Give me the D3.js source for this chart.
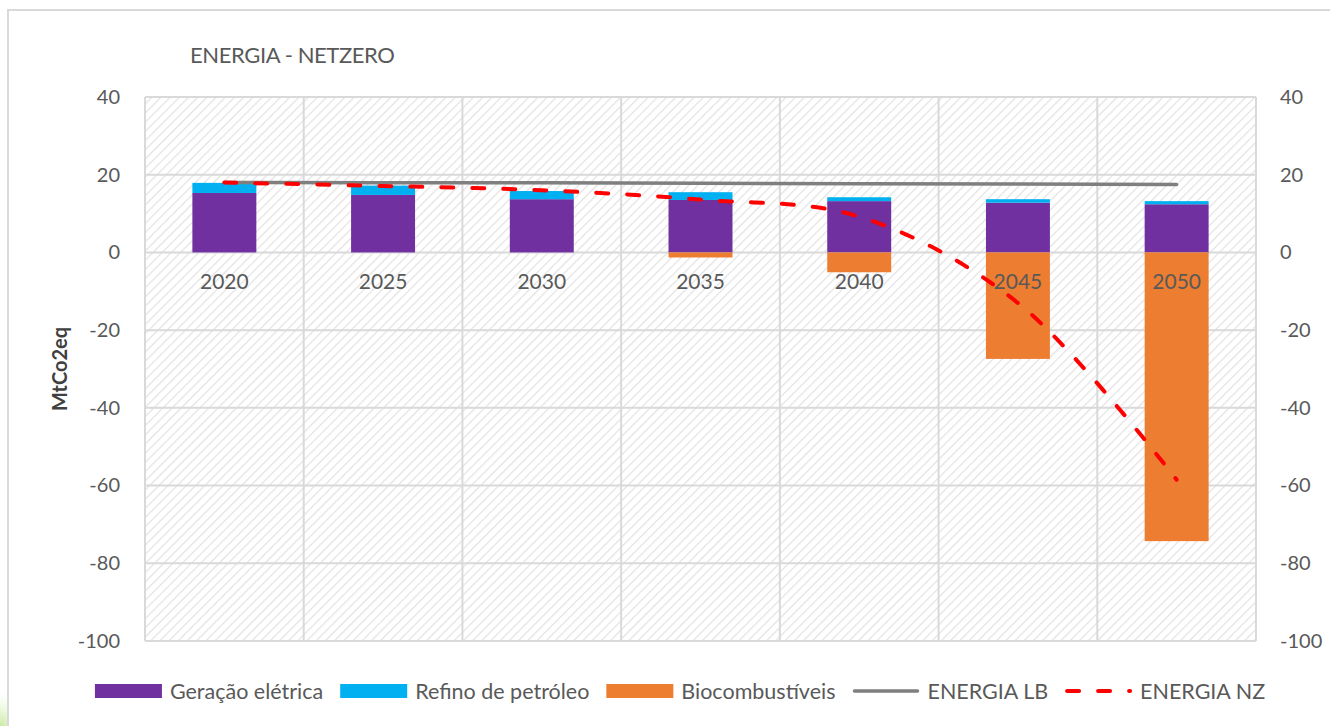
<!DOCTYPE html>
<html>
<head>
<meta charset="utf-8">
<script src="https://cdn.jsdelivr.net/npm/d3@7"></script>
<style>
  body { margin: 0; background: #fff; }
  text { font-family: Lato, "Open Sans", sans-serif; }
</style>
</head>
<body>
<div id="chart"></div>
<script>
// data
const years = ["2020", "2025", "2030", "2035", "2040", "2045", "2050"];
const geracao = [15.3, 14.8, 13.7, 13.5, 13.2, 12.8, 12.4];
const refino = [2.6, 2.4, 2.1, 2.0, 1.0, 0.9, 0.8];
const biocomb = [0, 0, 0, -1.3, -5.1, -27.4, -74.3];
const energiaLB = [18.0, 17.9, 17.9, 17.8, 17.7, 17.6, 17.5];
const energiaNZ = [18.0, 17.1, 16.0, 13.6, 9.2, -13.0, -58.5];
const yTicks = [40, 20, 0, -20, -40, -60, -80, -100];

let W = 1330, H = 726;
let margin = { left: 145, right: 74, top: 97, bottom: 85 };

let svg = d3.select("#chart")
  .append("svg")
    .attr("width", W)
    .attr("height", H);

let defs = svg.append("defs");
let pat = defs.append("pattern")
  .attr("id", "hatch")
  .attr("patternUnits", "userSpaceOnUse")
  .attr("width", 6.5)
  .attr("height", 6.5)
  .attr("patternTransform", "rotate(45)");
pat.append("rect").attr("width", 6.5).attr("height", 6.5).attr("fill", "#fff");
pat.append("line")
  .attr("x1", 0).attr("y1", 0).attr("x2", 0).attr("y2", 6.5)
  .attr("stroke", "#e2e2e2")
  .attr("stroke-width", 2.4);

let grad = defs.append("radialGradient").attr("id", "green");
grad.append("stop").attr("offset", "0%").attr("stop-color", "#c9eaa0");
grad.append("stop").attr("offset", "100%").attr("stop-color", "#ffffff").attr("stop-opacity", 0);

// slide background bits + chart frame
svg.append("circle").attr("cx", 0).attr("cy", 726).attr("r", 40).attr("fill", "url(#green)");
svg.append("rect")
  .attr("x", 8).attr("y", 10)
  .attr("width", W).attr("height", H)
  .attr("fill", "#fff")
  .attr("stroke", "#d9d9d9")
  .attr("stroke-width", 2);

let x = d3.scaleBand()
  .domain(years)
  .range([margin.left, W - margin.right]);

let y = d3.scaleLinear()
  .domain([-100, 40])
  .range([H - margin.bottom, margin.top]);

// plot background
svg.append("rect")
  .attr("x", margin.left).attr("y", margin.top)
  .attr("width", W - margin.right - margin.left)
  .attr("height", H - margin.bottom - margin.top)
  .attr("fill", "url(#hatch)");

// gridlines
let grid = svg.append("g").attr("stroke", "#d9d9d9").attr("stroke-width", 2);
grid.selectAll("line.h")
  .data(yTicks)
  .enter()
  .append("line")
    .attr("x1", margin.left).attr("x2", W - margin.right)
    .attr("y1", d => y(d)).attr("y2", d => y(d));
grid.selectAll("line.v")
  .data(years.concat(["end"]))
  .enter()
  .append("line")
    .attr("x1", (d, i) => margin.left + i * x.bandwidth())
    .attr("x2", (d, i) => margin.left + i * x.bandwidth())
    .attr("y1", margin.top).attr("y2", H - margin.bottom);

// stacked bars
let rows = years.map((yr, i) => ({ year: yr, geracao: geracao[i], refino: refino[i], biocomb: biocomb[i] }));
let keys = ["geracao", "refino", "biocomb"];
let colors = { geracao: "#7030a0", refino: "#00b0f0", biocomb: "#ed7d31" };
let series = d3.stack().keys(keys).offset(d3.stackOffsetDiverging)(rows);

let barW = x.bandwidth() * 0.403;
svg.append("g")
  .selectAll("g")
  .data(series)
  .enter()
  .append("g")
    .attr("fill", d => colors[d.key])
  .selectAll("rect")
  .data(d => d)
  .enter()
  .append("rect")
    .attr("x", d => x(d.data.year) + x.bandwidth() / 2 - barW / 2)
    .attr("width", barW)
    .attr("y", d => y(Math.max(d[0], d[1])))
    .attr("height", d => Math.abs(y(d[0]) - y(d[1])));

// category labels along the zero line
svg.append("g")
  .selectAll("text")
  .data(years)
  .enter()
  .append("text")
    .attr("x", d => x(d) + x.bandwidth() / 2)
    .attr("y", y(0) + 37)
    .attr("text-anchor", "middle")
    .attr("font-size", 21)
    .attr("fill", "#595959")
    .text(d => d);

// lines
let cx = (d, i) => x(years[i]) + x.bandwidth() / 2;
svg.append("path")
  .datum(energiaLB)
  .attr("fill", "none")
  .attr("stroke", "#7f7f7f")
  .attr("stroke-width", 3.5)
  .attr("stroke-linecap", "round")
  .attr("d", d3.line().x(cx).y(d => y(d)));

svg.append("path")
  .datum(energiaNZ)
  .attr("fill", "none")
  .attr("stroke", "#ff0000")
  .attr("stroke-width", 4)
  .attr("stroke-linecap", "round")
  .attr("stroke-dasharray", "12,19")
  .attr("d", d3.line().x(cx).y(d => y(d)).curve(d3.curveCatmullRom.alpha(0.5)));

// y axes (left and right)
let leftAxis = d3.axisLeft(y).tickValues(yTicks).tickFormat(d => String(d)).tickSize(0).tickPadding(25);
let rightAxis = d3.axisRight(y).tickValues(yTicks).tickFormat(d => String(d)).tickSize(0).tickPadding(24);
[["left", leftAxis, margin.left], ["right", rightAxis, W - margin.right]].forEach(a => {
  let g = svg.append("g").attr("transform", "translate(" + a[2] + ",0)").call(a[1]);
  g.select(".domain").remove();
  g.selectAll("text")
    .attr("font-family", "Lato, sans-serif")
    .attr("font-size", 20)
    .attr("fill", "#595959");
});

// titles
svg.append("text")
  .attr("x", 190).attr("y", 63)
  .attr("font-size", 22)
  .attr("fill", "#595959")
  .attr("letter-spacing", -0.4)
  .text("ENERGIA - NETZERO");

svg.append("text")
  .attr("transform", "translate(67," + (y(-30)) + ") rotate(-90)")
  .attr("text-anchor", "middle")
  .attr("font-size", 20)
  .attr("font-weight", "bold")
  .attr("fill", "#404040")
  .text("MtCo2eq");

// legend
const legendNames = ["Geração elétrica", "Refino de petróleo", "Biocombustíveis", "ENERGIA LB", "ENERGIA NZ"];
const legendKinds = ["rect", "rect", "rect", "solid", "dash"];
const legendColors = ["#7030a0", "#00b0f0", "#ed7d31", "#7f7f7f", "#ff0000"];

let legend = svg.append("g");
let lx = 0;
legendNames.forEach((name, i) => {
  let g = legend.append("g");
  if (legendKinds[i] === "rect") {
    g.append("rect").attr("x", 0).attr("y", -7).attr("width", 67).attr("height", 14).attr("fill", legendColors[i]);
  } else {
    g.append("line")
      .attr("x1", 2).attr("x2", 65).attr("y1", 0).attr("y2", 0)
      .attr("stroke", legendColors[i])
      .attr("stroke-width", legendKinds[i] === "dash" ? 4 : 3.5)
      .attr("stroke-linecap", "round")
      .attr("stroke-dasharray", legendKinds[i] === "dash" ? "12,19" : null);
  }
  let t = g.append("text")
    .attr("x", 75).attr("y", 7.5)
    .attr("font-size", 21.5)
    .attr("fill", "#595959")
    .text(name);
  let w = 75 + t.node().getComputedTextLength();
  g.attr("transform", "translate(" + lx + ",0)");
  lx += w + 17;
});
let total = lx - 17;
legend.attr("transform", "translate(" + (680 - total / 2) + ",691)");
</script>
</body>
</html>
